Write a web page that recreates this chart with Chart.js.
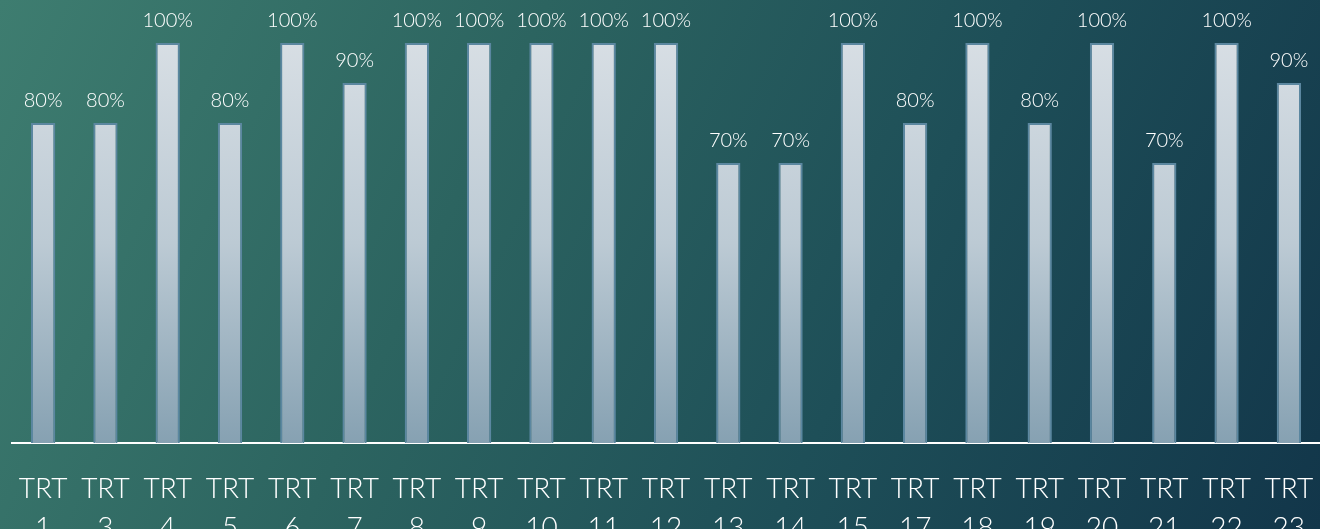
<!DOCTYPE html>
<html>
<head>
<meta charset="utf-8">
<script src="https://cdn.jsdelivr.net/npm/chart.js@4"></script>
<style>
  html, body {
    margin: 0;
    padding: 0;
  }
  body {
    width: 1320px;
    height: 529px;
    overflow: hidden;
    background: linear-gradient(115deg, #3e7d70 0%, #2c6460 35%, #1e4f58 65%, #12364a 100%);
  }
  .chartBox {
    position: relative;
    width: 1320px;
    height: 529px;
  }
</style>
</head>
<body>
<div class="chartBox">
  <canvas id="myChart"></canvas>
</div>
<script>
const treatments = ["1", "3", "4", "5", "6", "7", "8", "9", "10", "11", "12", "13", "14", "15", "17", "18", "19", "20", "21", "22", "23"];
const percentValues = [80, 80, 100, 80, 100, 90, 100, 100, 100, 100, 100, 70, 70, 100, 80, 100, 80, 100, 70, 100, 90];

const labels = treatments.map((t) => ["TRT", t]);

const valueLabels = {
  id: "valueLabels",
  afterDatasetsDraw(chart) {
    const ctx = chart.ctx;
    const meta = chart.getDatasetMeta(0);
    ctx.save();
    ctx.font = "300 20px Lato";
    ctx.fillStyle = "#ffffff";
    ctx.textAlign = "center";
    ctx.textBaseline = "alphabetic";
    meta.data.forEach((bar, i) => {
      ctx.fillText(percentValues[i] + "%", bar.x, bar.y - 16);
    });
    ctx.restore();
  },
};

function barGradient(context) {
  const area = context.chart.chartArea;
  if (!area) return "#c8d3db";
  const g = context.chart.ctx.createLinearGradient(0, area.top, 0, area.bottom);
  g.addColorStop(0, "#d7dee4");
  g.addColorStop(0.5, "#bccad4");
  g.addColorStop(1, "#86a1b2");
  return g;
}

new Chart(document.getElementById("myChart"), {
  type: "bar",
  data: {
    labels: labels,
    datasets: [
      {
        data: percentValues,
        backgroundColor: barGradient,
        borderColor: "#5b87a0",
        borderWidth: 2,
        barPercentage: 0.39,
        categoryPercentage: 1,
      },
    ],
  },
  options: {
    responsive: true,
    maintainAspectRatio: false,
    animation: false,
    layout: {
      padding: { top: 43, left: 12, right: 0, bottom: 0 },
    },
    plugins: {
      legend: { display: false },
      tooltip: { enabled: false },
    },
    scales: {
      x: {
        afterFit: (scale) => {
          scale.height = 86;
          scale.paddingLeft = 0;
          scale.paddingRight = 0;
        },
        border: { display: true, color: "#ffffff", width: 2 },
        grid: { display: false, drawTicks: false },
        ticks: {
          color: "#ffffff",
          font: { family: "Lato", weight: "300", size: 28, lineHeight: 1.4 },
          padding: 26,
          maxRotation: 0,
          autoSkip: false,
        },
      },
      y: {
        display: false,
        min: 0,
        max: 100,
      },
    },
  },
  plugins: [valueLabels],
});
</script>
</body>
</html>
